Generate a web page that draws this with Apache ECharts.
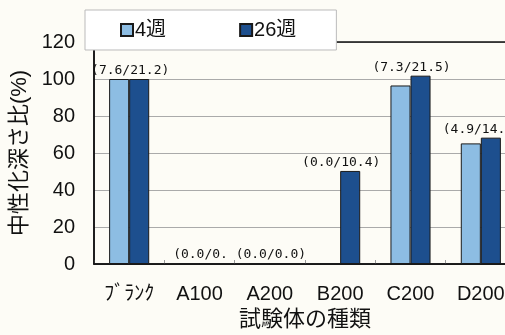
<!DOCTYPE html>
<html><head><meta charset="utf-8">
<script src="https://cdn.jsdelivr.net/npm/echarts@6/dist/echarts.min.js"></script>
<style>html,body{margin:0;padding:0;background:#fdfcf6;}#c{width:505px;height:335px;}</style>
</head><body><div id="c"></div>
<script>
const categories = ['ﾌﾞﾗﾝｸ', 'A100', 'A200', 'B200', 'C200', 'D200'];
const week4 = [100, 0, 0, 0, 96.5, 65.2];
const week26 = [100, 0, 0, 50.3, 101.8, 68.3];
const depthLabels = ['(7.6/21.2)', '(0.0/0.', '(0.0/0.0)', '(0.0/10.4)', '(7.3/21.5)', '(4.9/14.1)'];
const yTicks = [0, 20, 40, 60, 80, 100, 120];
const seriesNames = ['4週', '26週'];
const yName = '中性化深さ比(%)';
const xName = '試験体の種類';

const FONT = "'Liberation Sans', 'Noto Sans CJK JP', sans-serif";
const chart = echarts.init(document.getElementById('c'));
chart.setOption({
  backgroundColor: '#fdfcf6',
  animation: false,
  legend: {
    left: 85, top: 10,
    padding: [10, 40, 10, 35],
    itemGap: 73,
    itemWidth: 12, itemHeight: 12,
    icon: 'rect',
    backgroundColor: '#ffffff',
    borderColor: '#bbbbbb', borderWidth: 1,
    textStyle: { fontFamily: FONT, fontSize: 20, color: '#111', padding: [0, 0, 0, -3] },
    data: seriesNames
  },
  grid: { left: 94, top: 42, bottom: 71, width: 422, outerBoundsMode: 'none', containLabel: false,
          show: true, borderColor: '#111', borderWidth: 1.5, backgroundColor: 'transparent', z: 1 },
  xAxis: {
    type: 'category', data: categories,
    name: xName, nameLocation: 'middle', nameGap: 45,
    nameTextStyle: { fontFamily: FONT, fontSize: 22, color: '#111' },
    axisLine: { lineStyle: { color: '#111', width: 1.5 } },
    axisTick: { show: true, inside: true, length: 4, lineStyle: { color: '#999' } },
    axisLabel: { fontFamily: FONT, fontSize: 20, color: '#111', margin: 20 }
  },
  yAxis: {
    type: 'value', min: yTicks[0], max: yTicks[yTicks.length - 1], interval: 20,
    name: yName, nameLocation: 'middle', nameGap: 61, nameRotate: 90,
    nameTextStyle: { fontFamily: FONT, fontSize: 22, color: '#111' },
    axisLine: { show: true, lineStyle: { color: '#111', width: 1.5 } },
    axisTick: { show: false },
    axisLabel: { fontFamily: FONT, fontSize: 20, color: '#111', margin: 19 },
    splitLine: { lineStyle: { color: '#aaaaaa', width: 1 } }
  },
  series: [
    {
      name: seriesNames[0], type: 'bar', data: week4,
      barGap: 0, barCategoryGap: '43%',
      itemStyle: { color: '#8dbde3', borderColor: '#1a1a1a', borderWidth: 1 }
    },
    {
      name: seriesNames[1], type: 'bar', data: week26,
      itemStyle: { color: '#1d4f8e', borderColor: '#1a1a1a', borderWidth: 1 },
      label: {
        show: true, position: 'top', distance: 2, offset: [-9, 0],
        fontFamily: "'DejaVu Sans Mono', monospace", fontSize: 13, color: '#111',
        formatter: p => depthLabels[p.dataIndex]
      }
    }
  ]
});
</script></body></html>
